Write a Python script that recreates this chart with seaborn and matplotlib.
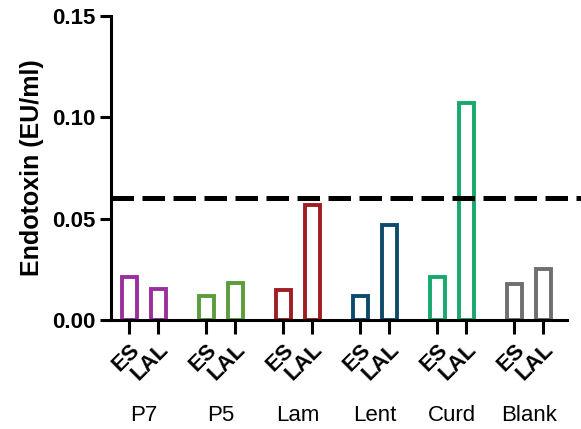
import matplotlib
matplotlib.use("Agg")
import matplotlib.pyplot as plt
import seaborn as sns
import numpy as np
import pandas as pd

groups = ["P7", "P5", "Lam", "Lent", "Curd", "Blank"]
assays = ["ES", "LAL"]
es_vals = [0.021, 0.012, 0.015, 0.012, 0.021, 0.018]
lal_vals = [0.0155, 0.0185, 0.0565, 0.047, 0.107, 0.025]
colors = ["#9a2f9e", "#5b9d3c", "#a01d22", "#0d4a6d", "#17a86b", "#6f6f6f"]
threshold = 0.06

sns.set_theme(style="ticks")
plt.rcParams["font.family"] = ["Liberation Sans", "DejaVu Sans"]
plt.rcParams.update({"text.color": "black", "axes.labelcolor": "black",
                     "xtick.color": "black", "ytick.color": "black"})

offsets = {"ES": -0.188, "LAL": 0.188}
rows = []
for gi, g in enumerate(groups):
    for a, v in zip(assays, [es_vals[gi], lal_vals[gi]]):
        rows.append({"group": g, "assay": a, "x": gi + offsets[a], "value": v})
df = pd.DataFrame(rows)

fig = plt.figure(figsize=(5.81, 4.29), dpi=100)
ax = fig.add_axes([0.191, 0.254, 0.785, 0.709])

sns.barplot(data=df, x="x", y="value", hue="group", hue_order=groups,
            palette=colors, native_scale=True, dodge=False, fill=False,
            width=0.52, linewidth=2.8, legend=False, ax=ax, errorbar=None)

ax.axhline(threshold, xmin=0, xmax=1.03, color="black", lw=3.6,
           ls=(0, (4.5, 1.7)), clip_on=False, zorder=5)

ax.set_ylim(0, 0.15)
ax.set_xlim(-0.426, 5.5)
ax.set_yticks([0, 0.05, 0.10, 0.15])
ax.set_yticklabels([f"{t:.2f}" for t in [0, 0.05, 0.10, 0.15]],
                   fontsize=16, fontweight="bold")
ax.set_xticks(df["x"].tolist())
ax.set_xticklabels(df["assay"].tolist(), rotation=45, ha="right",
                   rotation_mode="anchor", fontsize=16, fontweight="bold")
ax.set_xlabel("")
ax.set_ylabel("Endotoxin (EU/ml)", fontsize=18, fontweight="bold", labelpad=6)

for s in ["top", "right"]:
    ax.spines[s].set_visible(False)
for s in ["left", "bottom"]:
    ax.spines[s].set_linewidth(2.2)
    ax.spines[s].set_color("black")
ax.tick_params(axis="both", width=2.2, length=8, color="black", pad=3)
ax.tick_params(axis="x", length=10, pad=4)

trans = matplotlib.transforms.blended_transform_factory(ax.transData, ax.transAxes)
for gi, g in enumerate(groups):
    ax.text(gi, -0.3125, g, transform=trans, ha="center", va="center", fontsize=16)

fig.savefig("out.png", dpi=100)
